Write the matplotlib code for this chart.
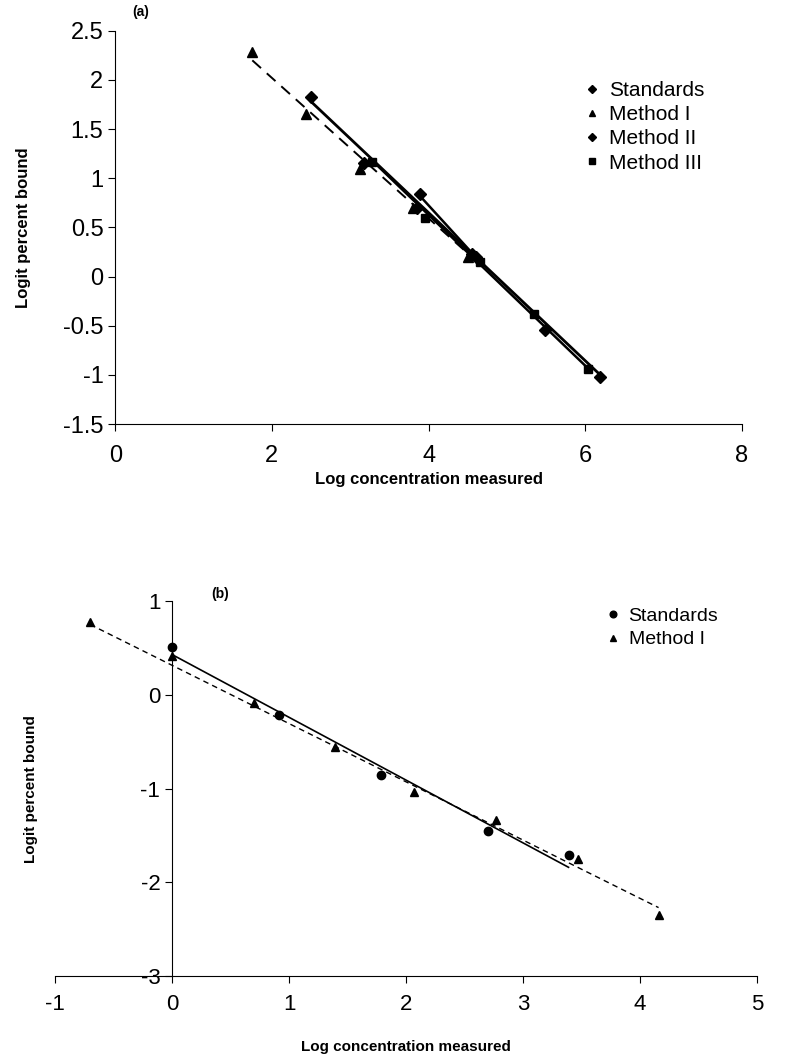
import matplotlib.pyplot as plt

plt.rcParams['font.family'] = ['Liberation Sans', 'DejaVu Sans']
plt.rcParams['axes.unicode_minus'] = False

# ---------------- panel (a) data ----------------
std_a_x = [2.5, 3.18, 3.85, 4.55, 5.49, 6.19]
std_a_y = [1.83, 1.16, 0.70, 0.23, -0.54, -1.02]
m1_a_x = [1.75, 2.43, 3.13, 3.80, 4.50]
m1_a_y = [2.28, 1.65, 1.09, 0.70, 0.20]
m2_a_x = [3.89, 4.60]
m2_a_y = [0.84, 0.20]
m3_a_x = [3.28, 3.96, 4.65, 5.34, 6.03]
m3_a_y = [1.17, 0.60, 0.15, -0.38, -0.94]

# fitted trend lines (end points)
fit_std_a_x = [2.5, 6.19]
fit_std_a_y = [1.78, -1.0]
fit_m1_a_x = [1.75, 4.55]
fit_m1_a_y = [2.2, 0.2]
fit_m2_a_x = [3.89, 4.60]
fit_m2_a_y = [0.82, 0.20]
fit_m3_a_x = [3.28, 6.03]
fit_m3_a_y = [1.18, -0.93]

# ---------------- panel (b) data ----------------
std_b_x = [0.0, 0.91, 1.79, 2.70, 3.39]
std_b_y = [0.51, -0.21, -0.86, -1.45, -1.71]
m1_b_x = [-0.70, 0.0, 0.70, 1.39, 2.07, 2.77, 3.47, 4.16]
m1_b_y = [0.78, 0.41, -0.09, -0.56, -1.04, -1.33, -1.75, -2.35]

fit_std_b_x = [0.0, 3.39]
fit_std_b_y = [0.43, -1.84]
fit_m1_b_x = [-0.70, 4.16]
fit_m1_b_y = [0.75, -2.27]

a_xticks = [0, 2, 4, 6, 8]
a_yticks = [-1.5, -1, -0.5, 0, 0.5, 1, 1.5, 2, 2.5]
a_ytick_labels = ['-1.5', '-1', '-0.5', '0', '0.5', '1', '1.5', '2', '2.5']
b_xticks = [-1, 0, 1, 2, 3, 4, 5]
b_yticks = [-3, -2, -1, 0, 1]

fig = plt.figure(figsize=(8, 10.64), dpi=100)

# ---------------------------------------------------------------
# (a)
# ---------------------------------------------------------------
ax = fig.add_axes([0.144, 0.6015, 0.7835, 0.3695])
ax.plot(fit_std_a_x, fit_std_a_y, color='black', lw=2.0)
ax.plot(fit_m3_a_x, fit_m3_a_y, color='black', lw=1.8)
ax.plot(fit_m2_a_x, fit_m2_a_y, color='black', lw=1.8)
ax.plot(fit_m1_a_x, fit_m1_a_y, color='black', lw=1.4, ls=(0, (6, 4)))
ax.plot(std_a_x, std_a_y, 'D', color='black', ms=6, ls='none', label='Standards')
ax.plot(m1_a_x, m1_a_y, '^', color='black', ms=7, ls='none', label='Method I')
ax.plot(m2_a_x, m2_a_y, 'D', color='black', ms=6, ls='none', label='Method II')
ax.plot(m3_a_x, m3_a_y, 's', color='black', ms=6, ls='none', label='Method III')

ax.set_xlim(0, 8)
ax.set_ylim(-1.5, 2.5)
ax.set_xticks(a_xticks)
ax.set_yticks(a_yticks)
ax.set_yticklabels(a_ytick_labels)
ax.tick_params(labelsize=17, direction='out', length=5, width=0.8)
ax.tick_params(axis='x', pad=10)
for s in ['top', 'right']:
    ax.spines[s].set_visible(False)
for s in ['left', 'bottom']:
    ax.spines[s].set_linewidth(0.8)
ax.set_xlabel('Log concentration measured', fontsize=12, fontweight='bold', labelpad=4)
ax.set_ylabel('Logit percent bound', fontsize=12, fontweight='bold')
ax.yaxis.set_label_coords(-0.135, 0.5)
ax.text(0.04, 1.03, '(a)', transform=ax.transAxes, fontsize=10, fontweight='bold',
        ha='center', va='bottom')
ax.legend(loc='upper right', bbox_to_anchor=(0.97, 0.92), frameon=False, fontsize=15,
          markerscale=0.7, handletextpad=0.2, labelspacing=0.25, handlelength=1.2)

# ---------------------------------------------------------------
# (b)
# ---------------------------------------------------------------
bx = fig.add_axes([0.069, 0.0827, 0.877, 0.3523])
bx.plot(fit_std_b_x, fit_std_b_y, color='black', lw=1.2)
bx.plot(fit_m1_b_x, fit_m1_b_y, color='black', lw=1.0, ls=(0, (4, 3)))
bx.plot(std_b_x, std_b_y, 'o', color='black', ms=6, ls='none', label='Standards')
bx.plot(m1_b_x, m1_b_y, '^', color='black', ms=6, ls='none', label='Method I')

bx.set_xlim(-1, 5)
bx.set_ylim(-3, 1)
bx.set_xticks(b_xticks)
bx.set_yticks(b_yticks)
bx.spines['left'].set_position(('data', 0))
for s in ['top', 'right']:
    bx.spines[s].set_visible(False)
for s in ['left', 'bottom']:
    bx.spines[s].set_linewidth(0.8)
bx.tick_params(labelsize=16, direction='out', length=5, width=0.8)
bx.tick_params(axis='x', pad=8)
bx.set_xlabel('Log concentration measured', fontsize=11, fontweight='bold', labelpad=18)
bx.set_ylabel('Logit percent bound', fontsize=11, fontweight='bold')
bx.yaxis.set_label_coords(-0.025, 0.5)
bx.text(0.235, 1.0, '(b)', transform=bx.transAxes, fontsize=10, fontweight='bold',
        ha='center', va='bottom')
bx.legend(loc='upper right', bbox_to_anchor=(0.97, 1.03), frameon=False, fontsize=14,
          markerscale=0.8, handletextpad=0.2, labelspacing=0.3, handlelength=1.2)

fig.savefig('out.png', dpi=100)
